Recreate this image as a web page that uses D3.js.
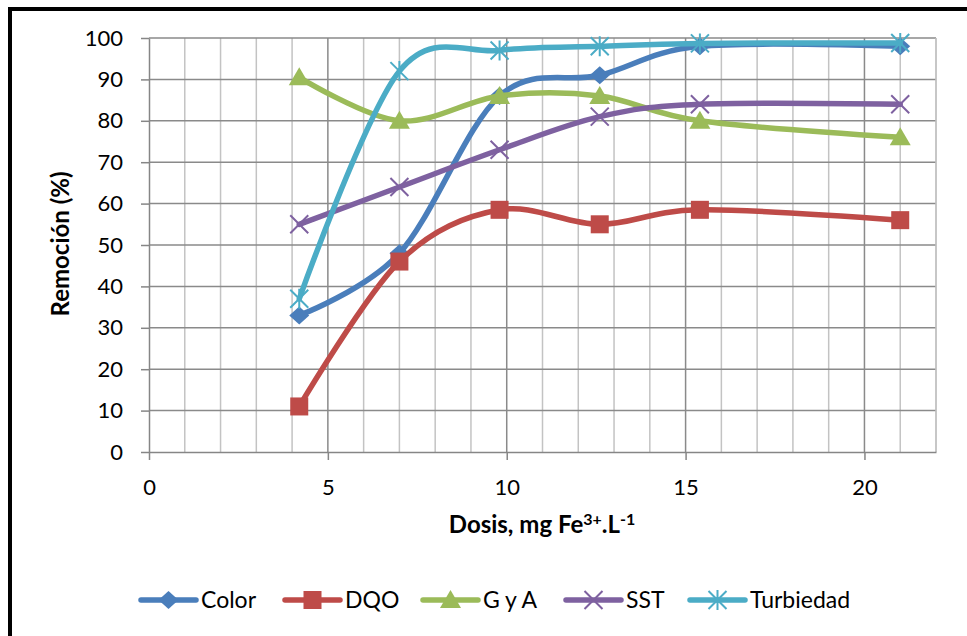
<!DOCTYPE html>
<html>
<head>
<meta charset="utf-8">
<script src="https://cdn.jsdelivr.net/npm/d3@7"></script>
<style>
  html, body { margin: 0; padding: 0; background: #fff; }
  svg { display: block; font-family: Lato, "Open Sans", sans-serif; }
</style>
</head>
<body>
<svg id="chart" width="967" height="636"></svg>
<script>
// ---- data ----
const doses = [4.2, 7.0, 9.8, 12.6, 15.4, 21.0];
const colorVals = [33, 48, 86, 91, 98, 98];
const dqoVals = [11, 46, 58.5, 55, 58.5, 56];
const gyaVals = [90.5, 80, 86, 86, 80, 76];
const sstVals = [55, 64, 73, 81, 84, 84];
const turbVals = [37, 92, 97, 98, 98.7, 98.8];
const seriesNames = ["Color", "DQO", "G y A", "SST", "Turbiedad"];
const seriesColors = ["#4A7EBB", "#BE4B48", "#9BBB59", "#7E61A0", "#4BACC6"];
const seriesMarkers = ["diamond", "square", "triangle", "x", "star"];
const xTicks = [0, 5, 10, 15, 20];
const yTicks = [0, 10, 20, 30, 40, 50, 60, 70, 80, 90, 100];

const seriesVals = [colorVals, dqoVals, gyaVals, sstVals, turbVals];

const svg = d3.select("#chart");
svg.append("rect").attr("x", 0).attr("y", 0).attr("width", 967).attr("height", 636).attr("fill", "#fff");
// outer border
svg.append("rect").attr("x", 10).attr("y", 9).attr("width", 1000).attr("height", 700)
  .attr("fill", "none").attr("stroke", "#000").attr("stroke-width", 4);

const x = d3.scaleLinear().domain([0, 22]).range([149, 936]);
const y = d3.scaleLinear().domain([0, 100]).range([452, 38]);

const grid = svg.append("g");
// minor vertical gridlines
grid.selectAll("line.vminor").data(d3.range(1, 23).filter(d => d % 5 !== 0)).join("line")
  .attr("x1", d => x(d)).attr("x2", d => x(d)).attr("y1", y(0)).attr("y2", y(100))
  .attr("stroke", "#c3c3c3").attr("stroke-width", 1.5);
// major vertical gridlines
grid.selectAll("line.vmajor").data(xTicks.filter(d => d > 0)).join("line")
  .attr("x1", d => x(d)).attr("x2", d => x(d)).attr("y1", y(0)).attr("y2", y(100))
  .attr("stroke", "#8a8a8a").attr("stroke-width", 1.5);
// horizontal gridlines
grid.selectAll("line.h").data(yTicks.filter(d => d > 0)).join("line")
  .attr("x1", x(0)).attr("x2", x(22)).attr("y1", d => y(d)).attr("y2", d => y(d))
  .attr("stroke", "#8a8a8a").attr("stroke-width", 1.5);
// right border of plot
grid.append("line").attr("x1", x(22)).attr("x2", x(22)).attr("y1", y(0)).attr("y2", y(100))
  .attr("stroke", "#c3c3c3").attr("stroke-width", 1.5);

// axes
const xAxis = svg.append("g").attr("transform", `translate(0,${y(0)})`)
  .call(d3.axisBottom(x).tickValues(xTicks).tickSize(8).tickPadding(19).tickSizeOuter(0));
const yAxis = svg.append("g").attr("transform", `translate(${x(0)},0)`)
  .call(d3.axisLeft(y).tickValues(yTicks).tickSize(8).tickPadding(18).tickSizeOuter(0));
[xAxis, yAxis].forEach(a => {
  a.select(".domain").attr("stroke", "#868686").attr("stroke-width", 1.5);
  a.selectAll(".tick line").attr("stroke", "#868686").attr("stroke-width", 1.5);
  a.selectAll(".tick text").attr("fill", "#000").style("font-size", "22px").style("font-family", "Lato, 'Open Sans', sans-serif");
});

// marker symbol drawer
function drawMarker(g, type, color, cx, cy) {
  if (type === "diamond") {
    g.append("path").attr("d", `M${cx},${cy-9}L${cx+10},${cy}L${cx},${cy+9}L${cx-10},${cy}Z`).attr("fill", color);
  } else if (type === "square") {
    g.append("rect").attr("x", cx - 9).attr("y", cy - 9).attr("width", 18).attr("height", 18).attr("fill", color);
  } else if (type === "triangle") {
    g.append("path").attr("d", `M${cx},${cy-10}L${cx+10.5},${cy+8}L${cx-10.5},${cy+8}Z`).attr("fill", color);
  } else if (type === "x") {
    g.append("path").attr("d", `M${cx-9},${cy-9}L${cx+9},${cy+9}M${cx-9},${cy+9}L${cx+9},${cy-9}`)
      .attr("stroke", color).attr("stroke-width", 2).attr("fill", "none");
  } else if (type === "star") {
    g.append("path").attr("d", `M${cx-9},${cy-9}L${cx+9},${cy+9}M${cx-9},${cy+9}L${cx+9},${cy-9}M${cx},${cy-10}L${cx},${cy+10}`)
      .attr("stroke", color).attr("stroke-width", 2).attr("fill", "none");
  }
}

const line = d3.line().x(d => x(d[0])).y(d => y(d[1])).curve(d3.curveCardinal.tension(0));
const plot = svg.append("g");
seriesVals.forEach((vals, i) => {
  const pts = doses.map((d, j) => [d, vals[j]]);
  const g = plot.append("g");
  g.append("path").datum(pts).attr("d", line).attr("fill", "none")
    .attr("stroke", seriesColors[i]).attr("stroke-width", 5.5).attr("stroke-linecap", "round").attr("stroke-linejoin", "round");
  pts.forEach(p => drawMarker(g, seriesMarkers[i], seriesColors[i], x(p[0]), y(p[1])));
});

// axis titles
svg.append("text").attr("x", 542).attr("y", 533).attr("text-anchor", "middle")
  .style("font-size", "24px").style("font-weight", "bold")
  .call(t => {
    t.append("tspan").text("Dosis, mg Fe");
    t.append("tspan").attr("dy", -8).style("font-size", "16px").text("3+");
    t.append("tspan").attr("dy", 8).text(".L");
    t.append("tspan").attr("dy", -8).style("font-size", "16px").text("-1");
  });
svg.append("text").attr("transform", "translate(69,244) rotate(-90)").attr("text-anchor", "middle")
  .style("font-size", "24px").style("font-weight", "bold").text("Remoción (%)");

// legend
const legendStarts = [141, 285, 423, 566, 690];
const lg = svg.append("g");
seriesNames.forEach((name, i) => {
  const lx = legendStarts[i], ly = 600;
  lg.append("line").attr("x1", lx).attr("x2", lx + 55).attr("y1", ly).attr("y2", ly)
    .attr("stroke", seriesColors[i]).attr("stroke-width", 5.5).attr("stroke-linecap", "round");
  drawMarker(lg, seriesMarkers[i], seriesColors[i], lx + 27.5, ly);
  lg.append("text").attr("x", lx + 60).attr("y", ly).attr("dy", "0.36em")
    .style("font-size", "23px").text(name);
});
</script>
</body>
</html>
